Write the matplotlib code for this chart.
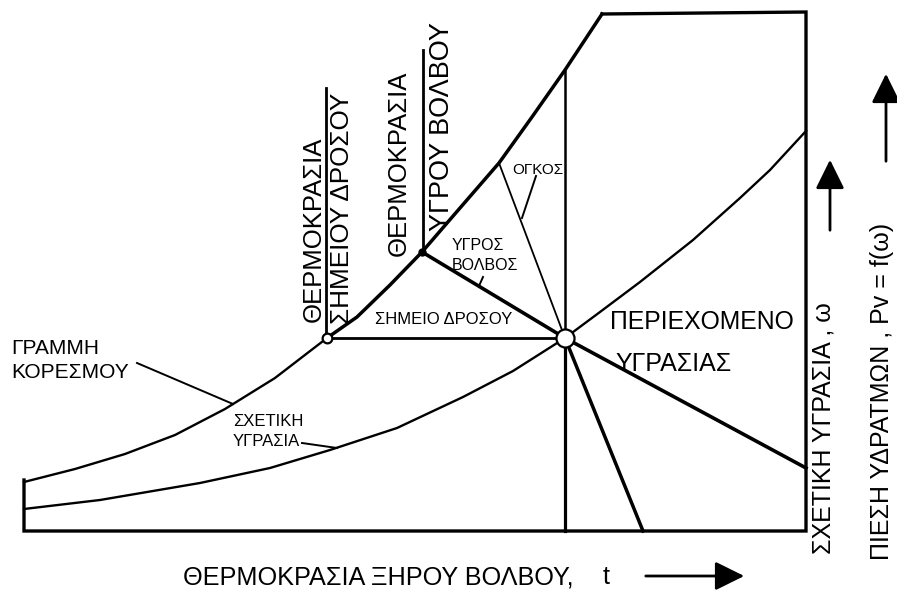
import matplotlib
matplotlib.use("Agg")
import matplotlib.pyplot as plt

plt.rcParams["font.family"] = ["Liberation Sans", "DejaVu Sans"]

# psychrometric sketch, values (t to the right, w downwards)
frame_t = [24, 24, 806, 806, 602]
frame_w = [480, 531, 531, 12, 14]

# saturation line: thin lower part and bold upper part
sat_t = [24, 75, 125, 175, 225, 275, 327]
sat_w = [482, 469, 454, 435, 409, 378, 338]
sat_hi_t = [327, 357, 390, 422, 460, 499, 532, 565, 602]
sat_hi_w = [338, 317, 285, 252, 208, 163, 117, 70, 14]

# relative humidity curve through the state point
rh_t = [24, 100, 200, 270, 330, 397, 463, 513, 565, 600, 640, 693, 740, 770, 806]
rh_w = [509, 500, 483, 468, 450, 428, 397, 371, 338, 312, 282, 240, 198, 170, 131]

state = (565, 338)
dew = (327, 338)
wet = (422, 252)

# lines through the state point
wetline_t = [422, 565, 806]
wetline_w = [252, 338, 468]
vol_up_t = [499, 565]
vol_up_w = [163, 338]
vol_dn_t = [565, 643]
vol_dn_w = [338, 531]
dry_up_t = [565, 565]
dry_up_w = [70, 338]
dry_dn_t = [565, 565]
dry_dn_w = [338, 531]

# vertical "underline" strokes of the rotated labels
dew_v_t = [326, 326]
dew_v_w = [88, 338]
wet_v_t = [423, 423]
wet_v_w = [50, 252]

# label leader lines
lead_sat = ([137, 233], [363, 404])
lead_rh = ([302, 337], [443, 448])
lead_wb = ([483, 479], [277, 286])
lead_vol = ([536, 522], [176, 218])

fig = plt.figure(figsize=(8.97, 5.90), dpi=100)
ax = fig.add_axes([0, 0, 1, 1])
ax.set_xlim(0, 897)
ax.set_ylim(590, 0)
ax.axis("off")

k = "black"
ax.plot(frame_t, frame_w, color=k, lw=2.4, solid_joinstyle="miter")
ax.plot(sat_t, sat_w, color=k, lw=1.7)
ax.plot(sat_hi_t, sat_hi_w, color=k, lw=2.5)
ax.plot(rh_t, rh_w, color=k, lw=1.7)
ax.plot([dew[0], state[0]], [dew[1], state[1]], color=k, lw=2.0)
ax.plot(wetline_t, wetline_w, color=k, lw=2.6)
ax.plot(vol_up_t, vol_up_w, color=k, lw=1.3)
ax.plot(vol_dn_t, vol_dn_w, color=k, lw=2.5)
ax.plot(dry_up_t, dry_up_w, color=k, lw=1.8)
ax.plot(dry_dn_t, dry_dn_w, color=k, lw=2.3)
ax.plot(dew_v_t, dew_v_w, color=k, lw=2.0)
ax.plot(wet_v_t, wet_v_w, color=k, lw=2.0)
for xs, ys in [lead_sat, lead_rh, lead_wb, lead_vol]:
    ax.plot(xs, ys, color=k, lw=1.4)

ax.plot(*dew, marker="o", ms=7, mfc="white", mec=k, mew=1.6)
ax.plot(*wet, marker="o", ms=5, mfc=k, mec=k)
ax.plot(*state, marker="o", ms=13, mfc="white", mec=k, mew=1.6, zorder=5)

# rotated labels
ax.text(314, 229, "ΘΕΡΜΟΚΡΑΣΙΑ", rotation=90, fontsize=18.5, ha="center", va="center")
ax.text(342, 208, "ΣΗΜΕΙΟΥ ΔΡΟΣΟΥ", rotation=90, fontsize=18.8, ha="center", va="center")
ax.text(399, 163, "ΘΕΡΜΟΚΡΑΣΙΑ", rotation=90, fontsize=18.5, ha="center", va="center")
ax.text(442, 127, "ΥΓΡΟΥ ΒΟΛΒΟΥ", rotation=90, fontsize=19.5, ha="center", va="center")

ax.text(11, 348, "ΓΡΑΜΜΗ", fontsize=15, ha="left", va="center")
ax.text(11, 372, "ΚΟΡΕΣΜΟΥ", fontsize=15, ha="left", va="center")
ax.text(233, 421, "ΣΧΕΤΙΚΗ", fontsize=12, ha="left", va="center")
ax.text(233, 442, "ΥΓΡΑΣΙΑ", fontsize=12, ha="left", va="center")
ax.text(375, 319, "ΣΗΜΕΙΟ ΔΡΟΣΟΥ", fontsize=12, ha="left", va="center")
ax.text(452, 245, "ΥΓΡΟΣ", fontsize=11.5, ha="left", va="center")
ax.text(452, 265, "ΒΟΛΒΟΣ", fontsize=11.5, ha="left", va="center")
ax.text(512, 170, "ΟΓΚΟΣ", fontsize=11, ha="left", va="center")
ax.text(610, 322, "ΠΕΡΙΕΧΟΜΕΝΟ", fontsize=17.8, ha="left", va="center")
ax.text(615, 364, "ΥΓΡΑΣΙΑΣ", fontsize=18, ha="left", va="center")

# axis captions with arrows
ax.text(183, 577, "ΘΕΡΜΟΚΡΑΣΙΑ ΞΗΡΟΥ ΒΟΛΒΟΥ,", fontsize=18.2, ha="left", va="center")
ax.text(603, 577, "t", fontsize=18.2, ha="left", va="center")
ax.text(824, 428, "ΣΧΕΤΙΚΗ ΥΓΡΑΣΙΑ , ω", rotation=90, fontsize=18, ha="center", va="center")
ax.text(882, 391, "ΠΙΕΣΗ ΥΔΡΑΤΜΩΝ , Pv = f(ω)", rotation=90, fontsize=18, ha="center", va="center")

arrow = dict(arrowstyle="-|>,head_length=0.85,head_width=0.42", color=k, lw=2, mutation_scale=21)
ax.annotate("", xy=(747, 576), xytext=(643, 576), arrowprops=arrow)
ax.annotate("", xy=(830, 157), xytext=(830, 233), arrowprops=arrow)
ax.annotate("", xy=(886, 71), xytext=(886, 164), arrowprops=arrow)

fig.savefig("out.png", dpi=100, facecolor="white")
